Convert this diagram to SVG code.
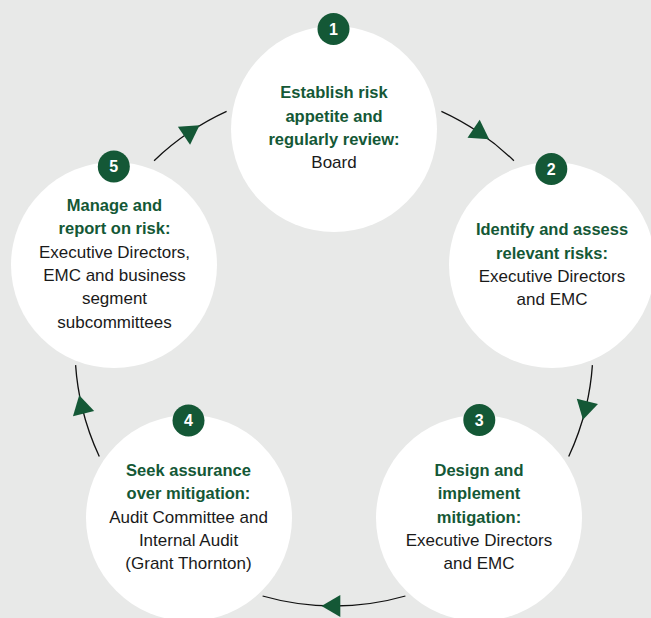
<svg xmlns="http://www.w3.org/2000/svg" width="651" height="618" viewBox="0 0 651 618">
<defs>
<style>
.bg{fill:#e8e9e8}
.node{fill:#ffffff}
.badge{fill:#145836}
.num{font-family:"Liberation Sans",Arial,sans-serif;font-weight:bold;font-size:16px;fill:#ffffff;text-anchor:middle}
.t{font-family:"Liberation Sans",Arial,sans-serif;font-weight:bold;font-size:16.5px;fill:#145836;text-anchor:middle}
.s{font-family:"Liberation Sans",Arial,sans-serif;font-size:17px;fill:#1a1a1a;text-anchor:middle}
.arc{fill:none;stroke:#111111;stroke-width:1.3;marker-mid:url(#arr)}
</style>
<marker id="arr" markerUnits="userSpaceOnUse" markerWidth="30" markerHeight="30" viewBox="-15 -15 30 30" refX="0" refY="0" orient="auto">
<path d="M12.5,0 L-6.3,10.9 L-6.3,-10.9 Z" fill="#145836"/>
</marker>
</defs>
<rect class="bg" x="0" y="0" width="651" height="618"/>
<g id="connectors">
<path class="arc" d="M441.4,111.3 A259,259 0 0 1 478.8,132.3 A259,259 0 0 1 513.9,160.7"/>
<path class="arc" d="M592.4,365.1 A259,259 0 0 1 585.9,407.5 A259,259 0 0 1 568.7,456.5"/>
<path class="arc" d="M405.4,596 A259,259 0 0 1 334,606 A259,259 0 0 1 262.6,596"/>
<path class="arc" d="M99.3,456.5 A259,259 0 0 1 82.1,407.5 A259,259 0 0 1 75.6,365.1"/>
<path class="arc" d="M154.1,160.7 A259,259 0 0 1 189.2,132.3 A259,259 0 0 1 226.6,111.3"/>
</g>
<g id="node1">
<circle class="node" cx="334" cy="129" r="103"/>
<circle class="badge" cx="333.5" cy="29" r="16"/>
<text class="num" x="333.5" y="34.8">1</text>
<text class="t" x="334" y="98">Establish risk</text>
<text class="t" x="334" y="121.5">appetite and</text>
<text class="t" x="334" y="145">regularly review:</text>
<text class="s" x="334" y="168">Board</text>
</g>
<g id="node2">
<circle class="node" cx="552" cy="265" r="103"/>
<circle class="badge" cx="551.3" cy="169" r="16"/>
<text class="num" x="551.3" y="174.8">2</text>
<text class="t" x="552" y="235">Identify and assess</text>
<text class="t" x="552" y="258.5">relevant risks:</text>
<text class="s" x="552" y="282">Executive Directors</text>
<text class="s" x="552" y="305">and EMC</text>
</g>
<g id="node3">
<circle class="node" cx="479" cy="518" r="103"/>
<circle class="badge" cx="479.3" cy="420" r="16"/>
<text class="num" x="479.3" y="425.8">3</text>
<text class="t" x="479" y="476">Design and</text>
<text class="t" x="479" y="499.3">implement</text>
<text class="t" x="479" y="522.7">mitigation:</text>
<text class="s" x="479" y="546">Executive Directors</text>
<text class="s" x="479" y="569.3">and EMC</text>
</g>
<g id="node4">
<circle class="node" cx="189" cy="518" r="103"/>
<circle class="badge" cx="188.5" cy="420.5" r="16"/>
<text class="num" x="188.5" y="426.3">4</text>
<text class="t" x="188.5" y="476">Seek assurance</text>
<text class="t" x="188.5" y="499.3">over mitigation:</text>
<text class="s" x="188.5" y="522.7">Audit Committee and</text>
<text class="s" x="188.5" y="546">Internal Audit</text>
<text class="s" x="188.5" y="569.3">(Grant Thornton)</text>
</g>
<g id="node5">
<circle class="node" cx="114" cy="265" r="103"/>
<circle class="badge" cx="113.8" cy="166.5" r="16"/>
<text class="num" x="113.8" y="172.3">5</text>
<text class="t" x="114.5" y="211">Manage and</text>
<text class="t" x="114.5" y="234.3">report on risk:</text>
<text class="s" x="114.5" y="257.7">Executive Directors,</text>
<text class="s" x="114.5" y="281">EMC and business</text>
<text class="s" x="114.5" y="304.3">segment</text>
<text class="s" x="114.5" y="327.7">subcommittees</text>
</g>
</svg>
